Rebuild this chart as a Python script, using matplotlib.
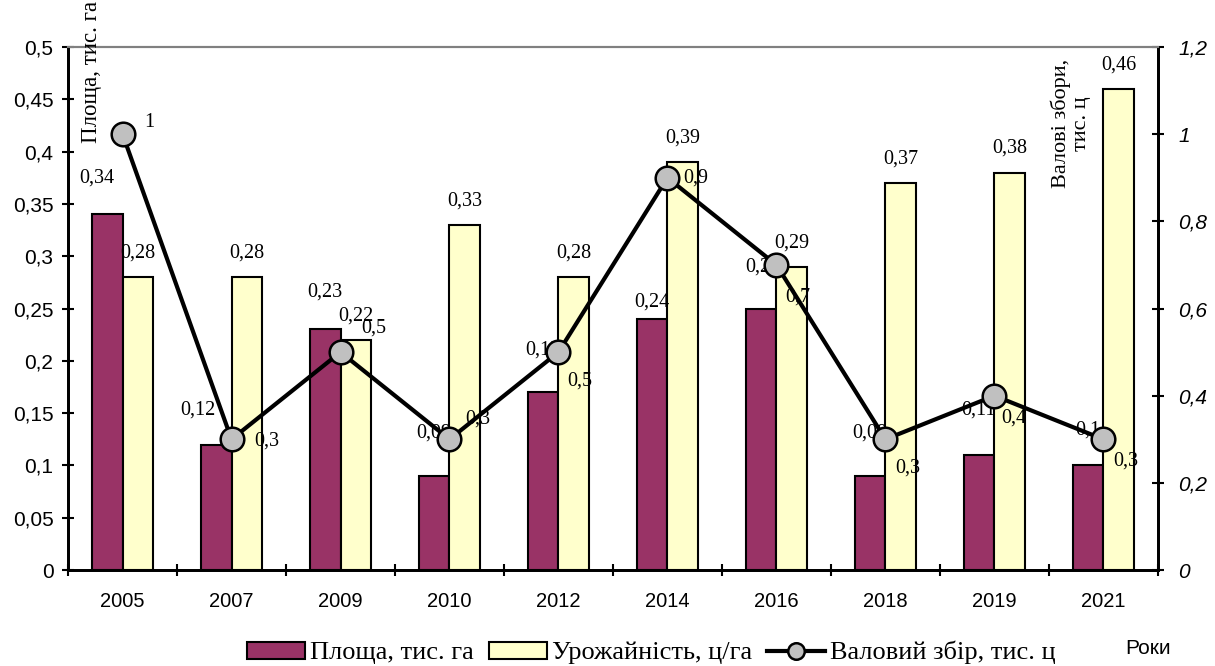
import numpy as np
import matplotlib.pyplot as plt

years = ['2005', '2007', '2009', '2010', '2012', '2014', '2016', '2018', '2019', '2021']
area = [0.34, 0.12, 0.23, 0.09, 0.17, 0.24, 0.25, 0.09, 0.11, 0.10]
yield_ = [0.28, 0.28, 0.22, 0.33, 0.28, 0.39, 0.29, 0.37, 0.38, 0.46]
harvest = [1.0, 0.3, 0.5, 0.3, 0.5, 0.9, 0.7, 0.3, 0.4, 0.3]

# label offsets in pixels (Excel placed them a bit unevenly)
area_off = [(-10, 36), (-18, 34), (0, 37), (0, 43), (0, 42),
            (0, 17), (2, 41), (0, 43), (0, 45), (0, 35)]
harvest_off = [(27, 12), (35, -2), (33, 24), (28, 20), (21, -29),
               (28, 0), (21, -32), (22, -29), (19, -22), (22, -22)]

SERIF = 'Liberation Serif'
SANS = 'Liberation Sans'


def fmt(v):
    return f'{v:g}'.replace('.', ',')


fig = plt.figure(figsize=(12.15, 6.66), dpi=100)
ax = fig.add_axes([0.056, 0.144, 0.897, 0.7855])
ax2 = ax.twinx()

x = np.arange(len(years))
w = 0.283
bars1 = ax.bar(x - w / 2, area, w, color='#993366', edgecolor='black',
               linewidth=1.5, label='Площа, тис. га')
bars2 = ax.bar(x + w / 2, yield_, w, color='#FFFFCC', edgecolor='black',
               linewidth=1.5, label='Урожайність, ц/га')
line, = ax2.plot(x, harvest, color='black', linewidth=3, marker='o',
                 markersize=17, markerfacecolor='#C0C0C0',
                 markeredgecolor='black', markeredgewidth=1.8,
                 label='Валовий збір, тис. ц')

for b, v, (dx, dy) in zip(bars1, area, area_off):
    ax.annotate(fmt(v), (b.get_x() + b.get_width() / 2, v),
                xytext=(dx, dy), textcoords='offset pixels',
                ha='center', va='center', fontsize=14.5, family=SERIF)
for b, v in zip(bars2, yield_):
    ax.annotate(fmt(v), (b.get_x() + b.get_width() / 2, v),
                xytext=(0, 24), textcoords='offset pixels',
                ha='center', va='center', fontsize=14.5, family=SERIF)
for xi, v, (dx, dy) in zip(x, harvest, harvest_off):
    ax2.annotate(fmt(v), (xi, v), xytext=(dx, dy), textcoords='offset pixels',
                 ha='center', va='center', fontsize=14.5, family=SERIF)

ax.set_xlim(-0.5, len(years) - 0.5)
ax.set_ylim(0, 0.5)
ax2.set_ylim(0, 1.2)
ax.set_xticks(x)
ax.set_xticklabels(years, family=SANS, fontsize=14.5)
ax.set_xticks(np.arange(-0.5, len(years)), minor=True)
ax.tick_params(axis='x', which='major', length=0, pad=16)
ax.tick_params(axis='x', which='minor', direction='inout', length=9, width=1.5)

lt = np.arange(0, 0.501, 0.05)
ax.set_yticks(lt)
ax.set_yticklabels([fmt(round(t, 2)) for t in lt], family=SANS, fontsize=15)
ax.tick_params(axis='y', direction='inout', length=9, width=1.5, pad=6)
rt = np.arange(0, 1.21, 0.2)
ax2.set_yticks(rt)
ax2.set_yticklabels([fmt(round(t, 1)) for t in rt], family=SANS,
                    fontsize=15, style='italic')
ax2.tick_params(axis='y', direction='inout', length=9, width=1.5, pad=10)

for a in (ax, ax2):
    a.spines['left'].set_linewidth(2)
    a.spines['right'].set_linewidth(2)
    a.spines['bottom'].set_linewidth(2)
    a.spines['top'].set_color('#808080')
    a.spines['top'].set_linewidth(1.5)

fig.text(0.0757, 0.998, 'Площа, тис. га', rotation=90, ha='center', va='top',
         fontsize=16.5, family=SERIF)
fig.text(0.881, 0.815, 'Валові збори,\nтис. ц', rotation=90, ha='center',
         va='center', fontsize=16, family=SERIF, multialignment='center',
         linespacing=1.05)
fig.text(0.945, 0.027, 'Роки', ha='center', va='center', fontsize=15,
         family=SANS)

fig.legend([bars1, bars2, line],
           ['Площа, тис. га', 'Урожайність, ц/га', 'Валовий збір, тис. ц'],
           loc='center', bbox_to_anchor=(0.536, 0.02), ncol=3, frameon=False,
           prop={'family': SERIF, 'size': 19}, handlelength=2.2,
           handleheight=0.6, handletextpad=0.2, columnspacing=0.55,
           markerscale=0.7, borderaxespad=0, borderpad=0)

fig.savefig('out.png', dpi=100)
